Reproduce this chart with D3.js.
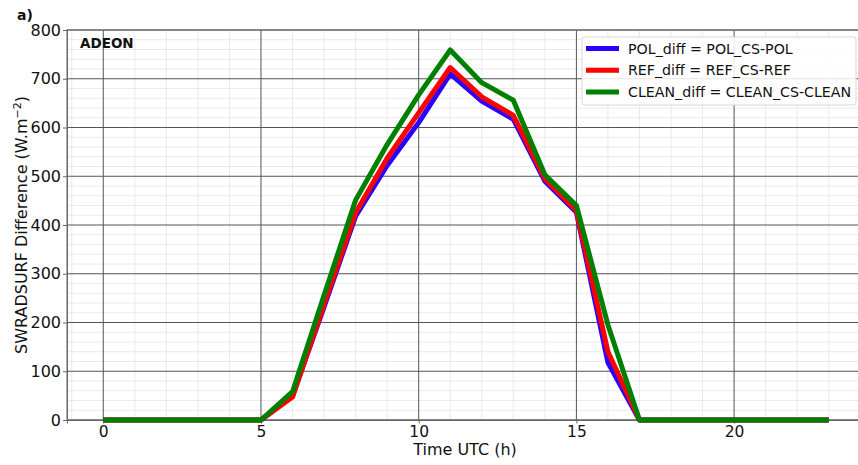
<!DOCTYPE html>
<html><head><meta charset="utf-8">
<script src="https://cdn.jsdelivr.net/npm/d3@7"></script>
<style>
html,body{margin:0;padding:0;background:#fff;}
svg{display:block;font-family:"DejaVu Sans",sans-serif;}
</style></head>
<body>
<svg id="chart" width="858" height="465"></svg>
<script>
const hours = [0,1,2,3,4,5,6,7,8,9,10,11,12,13,14,15,16,17,18,19,20,21,22,23];
const polDiff   = [0,0,0,0,0,0,50,232,418,522,610,710,654,617,490,426,118,0,0,0,0,0,0,0];
const refDiff   = [0,0,0,0,0,0,47,237,425,537,630,723,663,625,495,430,140,0,0,0,0,0,0,0];
const cleanDiff = [0,0,0,0,0,0,58,256,451,565,667,759,692,656,503,440,195,0,0,0,0,0,0,0];
const seriesNames = ["POL_diff = POL_CS-POL","REF_diff = REF_CS-REF","CLEAN_diff = CLEAN_CS-CLEAN"];
const seriesColors = ["#2a00ff","#ff0000","#008000"];
const xTicks = [0,5,10,15,20];
const yTicks = [0,100,200,300,400,500,600,700,800];

const svg = d3.select("#chart");
const L = 67, R = 865, T = 30, B = 420;
const x = d3.scaleLinear().domain([-1.15, 24.15]).range([L, R]);
const y = d3.scaleLinear().domain([0, 800]).range([B, T]);

const g = svg.append("g");
// minor grid
const xMinor = d3.range(-1, 25, 1).filter(v => v % 5 !== 0);
const yMinor = d3.range(0, 801, 20).filter(v => v % 100 !== 0);
g.selectAll(".xm").data(xMinor).enter().append("line")
  .attr("x1", d => x(d)).attr("x2", d => x(d)).attr("y1", T).attr("y2", B)
  .attr("stroke", "#e4e4e4").attr("stroke-width", 0.8);
g.selectAll(".ym").data(yMinor).enter().append("line")
  .attr("x1", L).attr("x2", R).attr("y1", d => y(d)).attr("y2", d => y(d))
  .attr("stroke", "#e4e4e4").attr("stroke-width", 0.8);
// major grid
g.selectAll(".xg").data(xTicks).enter().append("line")
  .attr("x1", d => x(d)).attr("x2", d => x(d)).attr("y1", T).attr("y2", B)
  .attr("stroke", "#555").attr("stroke-width", 1);
g.selectAll(".yg").data(yTicks).enter().append("line")
  .attr("x1", L).attr("x2", R).attr("y1", d => y(d)).attr("y2", d => y(d))
  .attr("stroke", "#555").attr("stroke-width", 1);

// frame
svg.append("rect").attr("x", L).attr("y", T).attr("width", R - L).attr("height", B - T)
  .attr("fill", "none").attr("stroke", "#666").attr("stroke-width", 1);

// axes
const xAxis = d3.axisBottom(x).tickValues(xTicks).tickSize(3.5).tickPadding(2);
const yAxis = d3.axisLeft(y).tickValues(yTicks).tickSize(4).tickPadding(2);
const xa = svg.append("g").attr("transform", `translate(0,${B})`).call(xAxis);
const ya = svg.append("g").attr("transform", `translate(${L},0)`).call(yAxis);
[xa, ya].forEach(a => {
  a.select(".domain").attr("stroke", "#666");
  a.selectAll(".tick line").attr("stroke", "#666");
  a.selectAll("text").attr("font-size", 16).attr("fill", "#111").attr("font-family", "DejaVu Sans");
});
xa.selectAll("text").attr("font-size", 15.5);

// lines
const line = d3.line().x((d, i) => x(hours[i])).y(d => y(d));
[polDiff, refDiff, cleanDiff].forEach((s, k) => {
  svg.append("path").datum(s).attr("d", line)
    .attr("fill", "none").attr("stroke", seriesColors[k])
    .attr("stroke-width", 5).attr("stroke-linejoin", "round").attr("stroke-linecap", "butt");
});

// legend
const lg = svg.append("g");
lg.append("rect").attr("x", 582).attr("y", 37).attr("width", 274).attr("height", 68)
  .attr("rx", 3).attr("fill", "#fff").attr("fill-opacity", 0.85).attr("stroke", "#d8d8d8");
seriesNames.forEach((n, k) => {
  const yy = 48.5 + k * 21.7;
  lg.append("line").attr("x1", 586).attr("x2", 619).attr("y1", yy).attr("y2", yy)
    .attr("stroke", seriesColors[k]).attr("stroke-width", 5);
  lg.append("text").attr("x", 628).attr("y", yy + 5).attr("font-size", 14.2).attr("fill", "#111").text(n);
});

// texts
svg.append("text").attr("x", 80).attr("y", 48).attr("font-size", 13.5).attr("font-weight", "bold").attr("fill", "#111").text("ADEON");
svg.append("text").attr("x", 17).attr("y", 20).attr("font-size", 14).attr("font-weight", "bold").attr("fill", "#111").text("a)");
svg.append("text").attr("x", (L + R) / 2 - 1).attr("y", 455).attr("text-anchor", "middle")
  .attr("font-size", 16).attr("fill", "#111").text("Time UTC (h)");
const yl = svg.append("text").attr("transform", `translate(27,${(T + B) / 2}) rotate(-90)`)
  .attr("text-anchor", "middle").attr("font-size", 16).attr("fill", "#111");
yl.append("tspan").text("SWRADSURF Difference (W.m");
yl.append("tspan").attr("dy", -6).attr("font-size", 11).text("−2");
yl.append("tspan").attr("dy", 6).text(")");
</script>
</body></html>
